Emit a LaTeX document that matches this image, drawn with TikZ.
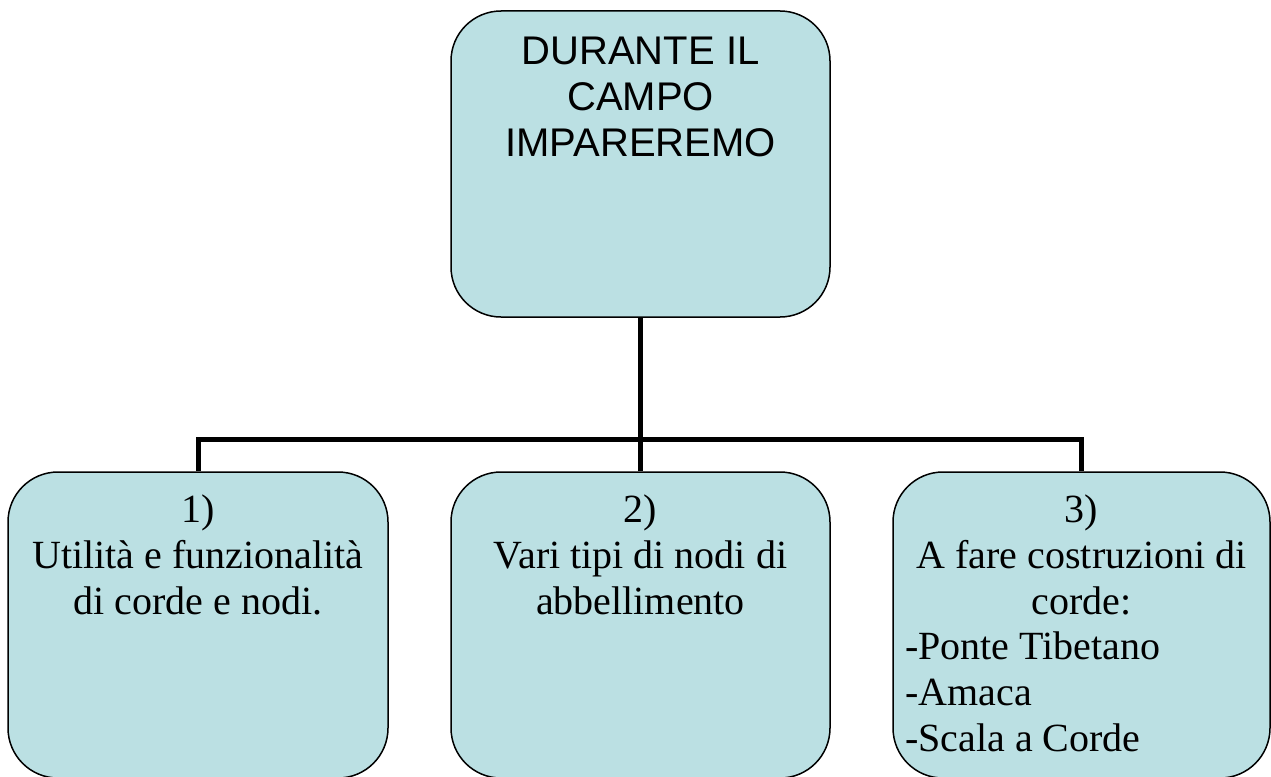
\documentclass[tikz,border=0pt]{standalone}
\usepackage{fontspec}
\setmainfont{Liberation Serif}
\newfontfamily\arialf{Liberation Sans}
\definecolor{boxfill}{RGB}{187,224,227}
\begin{document}
\begin{tikzpicture}[x=1pt,y=-1pt,
  box/.style={draw=black,line width=1.5pt,fill=boxfill,rounded corners=50pt,
    minimum width=#1,minimum height=306pt,inner sep=0pt},
  box/.default=380pt,
  conn/.style={line width=5pt,black},
  serif/.style={font=\fontsize{40}{46}\selectfont,inner sep=0pt,align=center,anchor=base},
  sans/.style={font=\arialf\fontsize{40}{46}\selectfont,inner sep=0pt,align=center,anchor=base}]
\clip (0,0) rectangle (1271,776);
% boxes
\node[box=379pt] (top) at (640.5,164) {};
\node[box] (b1) at (198,625) {};
\node[box=379pt] (b2) at (640.5,625) {};
\node[box=377pt] (b3) at (1081.5,625) {};
% connectors
\coordinate (j) at (640.5,440);
\draw[conn] (top.south) -- (j);
\draw[conn] (b2.north) -- (j);
\draw[conn] (b1.north) -- ++(0,-32) -| (b3.north);
% texts (base anchor = baseline of last line)
\node[sans] (t0) at (640.5,156) {DURANTE IL\\CAMPO\\IMPAREREMO};
\node[serif] (t1) at (198,614) {1)\\Utilità e funzionalità\\di corde e nodi.};
\node[serif] (t2) at (640.5,614) {2)\\Vari tipi di nodi di\\abbellimento};
\node[serif] (t3) at (1081.5,614) {3)\\A fare costruzioni di\\corde:};
\node[serif,align=left,anchor=base west] (t3b) at (905,751) {-Ponte Tibetano\\-Amaca\\-Scala a Corde};
\end{tikzpicture}
\end{document}
